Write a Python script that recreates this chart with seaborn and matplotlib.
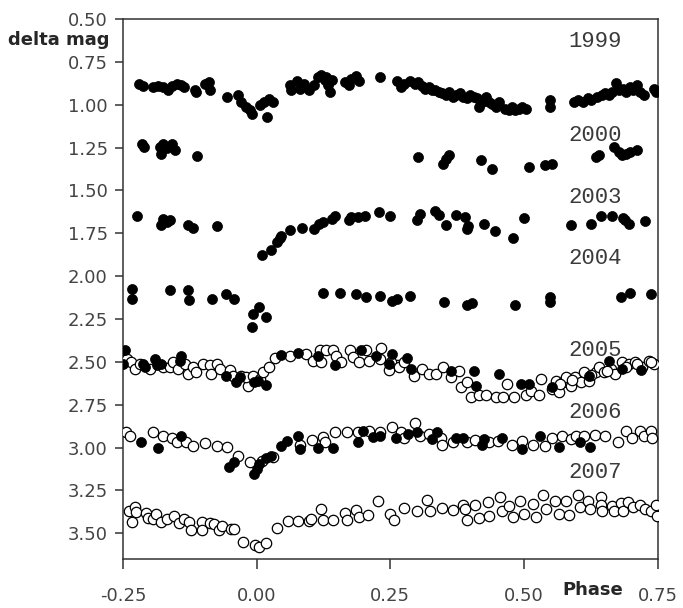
import numpy as np
import pandas as pd
import matplotlib
matplotlib.use("Agg")
import matplotlib.pyplot as plt
import seaborn as sns

# ---------------- data (phase, delta mag) ----------------
phase_1999 = [-0.220,-0.213,-0.194,-0.184,-0.175,-0.165,-0.158,-0.149,-0.142,-0.136,-0.116,-0.113,-0.097,-0.090,-0.087,
              -0.055,-0.035,-0.029,-0.019,-0.012,-0.009,0.007,0.013,0.023,0.030,0.020,
              0.062,0.065,0.075,0.082,0.088,0.098,0.108,0.114,0.120,0.127,0.133,0.137,0.140,0.130,
              0.166,0.172,0.176,0.185,0.192,0.231,
              0.263,0.270,0.276,0.286,0.296,0.302,0.309,0.315,0.322,0.328,0.334,0.341,0.347,0.354,0.360,0.367,0.373,0.380,
              0.386,0.393,0.399,0.406,0.412,0.416,0.422,0.428,0.435,0.441,0.448,0.454,0.464,0.471,0.477,0.484,0.490,0.497,0.503,
              0.549,0.549,
              0.594,0.600,0.610,0.620,0.626,0.636,0.646,0.652,0.659,0.665,0.672,0.678,0.685,0.691,0.698,0.704,0.711,0.717,0.724,0.743,0.746]
mag_1999 = [0.876,0.891,0.895,0.891,0.899,0.911,0.891,0.876,0.887,0.895,0.911,0.924,0.880,0.868,0.915,
            0.954,0.944,0.983,1.012,1.032,1.055,1.002,0.983,0.969,0.983,1.070,
            0.886,0.915,0.860,0.905,0.876,0.915,0.886,0.837,0.827,0.856,0.886,0.924,0.856,0.837,
            0.866,0.886,0.847,0.833,0.860,0.837,
            0.860,0.895,0.876,0.860,0.880,0.866,0.891,0.905,0.895,0.915,0.911,0.924,0.934,0.944,0.924,0.954,0.944,0.934,
            0.954,0.958,0.944,0.954,0.963,1.012,0.983,0.954,0.983,0.993,1.012,0.983,1.022,1.032,1.012,1.032,1.022,1.012,1.022,
            0.973,1.012,
            0.983,0.973,0.983,0.963,0.973,0.954,0.944,0.934,0.944,0.924,0.872,0.915,0.905,0.924,0.895,0.915,0.886,0.924,0.944,0.905,0.924]

phase_2000 = [-0.215,-0.211,-0.181,-0.178,-0.175,-0.168,-0.159,-0.153,-0.111,
              0.301,0.348,0.354,0.360,0.419,0.441,0.509,0.540,0.553,0.634,0.640,0.668,0.677,0.683,0.690,0.699,0.711]
mag_2000 = [1.226,1.246,1.246,1.285,1.226,1.255,1.226,1.265,1.298,
            1.304,1.343,1.314,1.294,1.324,1.372,1.363,1.353,1.347,1.304,1.294,1.246,1.275,1.294,1.285,1.275,1.265]

phase_2003 = [-0.223,-0.178,-0.175,-0.168,-0.162,-0.129,-0.119,-0.074,0.010,0.026,0.039,0.043,0.046,0.062,0.085,0.108,
              0.117,0.124,0.140,0.146,0.172,0.176,0.189,0.202,0.228,0.250,0.299,0.305,0.334,0.341,0.354,0.373,0.390,
              0.393,0.396,0.425,0.445,0.480,0.500,0.587,0.626,0.643,0.665,0.685,0.688,0.696,0.727]
mag_2003 = [1.651,1.703,1.664,1.684,1.674,1.699,1.719,1.707,1.878,1.849,1.801,1.777,1.766,1.733,1.719,1.727,
            1.694,1.684,1.664,1.651,1.674,1.655,1.655,1.649,1.625,1.651,1.674,1.635,1.622,1.641,1.699,1.641,1.655,
            1.727,1.707,1.694,1.738,1.777,1.660,1.699,1.694,1.651,1.651,1.660,1.674,1.694,1.680]

phase_2004 = [-0.233,-0.233,-0.162,-0.129,-0.126,-0.084,-0.058,-0.043,-0.009,-0.006,0.004,0.017,0.124,0.156,0.185,
              0.205,0.231,0.253,0.263,0.286,0.351,0.393,0.403,0.484,0.549,0.549,0.682,0.698,0.737]
mag_2004 = [2.073,2.132,2.083,2.079,2.141,2.132,2.102,2.132,2.297,2.219,2.180,2.239,2.099,2.099,2.102,
            2.122,2.118,2.145,2.132,2.118,2.151,2.171,2.157,2.171,2.122,2.151,2.122,2.099,2.106]

phase_2005_filled = [-0.246,-0.249,-0.212,-0.209,-0.190,-0.187,-0.178,-0.141,-0.144,-0.057,-0.038,-0.032,-0.004,0.003,
                     0.018,0.046,0.077,0.114,0.146,0.195,0.223,0.248,0.254,0.282,0.289,0.363,0.407,0.410,0.453,0.494,
                     0.509,0.553,0.621,0.659,0.683,0.718]
mag_2005_filled = [2.433,2.511,2.511,2.531,2.482,2.521,2.511,2.467,2.492,2.580,2.618,2.589,2.618,2.609,
                   2.634,2.459,2.447,2.467,2.517,2.433,2.463,2.511,2.453,2.478,2.541,2.556,2.556,2.638,2.570,2.628,
                   2.628,2.648,2.580,2.492,2.541,2.550]

phase_2005_open = [-0.243,-0.234,-0.228,-0.218,-0.200,-0.175,-0.162,-0.156,-0.147,-0.134,-0.128,-0.119,-0.113,-0.100,
                   -0.088,-0.085,-0.075,-0.069,-0.050,-0.044,-0.029,-0.016,-0.019,-0.007,0.006,0.012,0.024,0.034,0.062,
                   0.093,0.105,0.118,0.121,0.130,0.143,0.149,0.158,0.174,0.180,0.192,0.205,0.211,0.233,0.230,0.248,0.264,
                   0.251,0.267,0.276,0.295,0.310,0.323,0.335,0.348,0.363,0.379,0.382,0.394,0.401,0.416,0.429,0.447,
                   0.460,0.469,0.481,0.503,0.513,0.531,0.528,0.553,0.559,0.565,0.572,0.578,0.587,0.596,0.606,0.612,
                   0.621,0.634,0.640,0.649,0.662,0.671,0.683,0.696,0.708,0.721,0.733,0.743,
                   0.568,0.590,0.625,0.655,0.690,0.712,0.738]
mag_2005_open = [2.482,2.502,2.541,2.511,2.541,2.531,2.531,2.502,2.541,2.511,2.570,2.531,2.560,2.511,
                 2.521,2.570,2.511,2.541,2.550,2.580,2.580,2.638,2.589,2.580,2.599,2.560,2.531,2.478,2.463,
                 2.453,2.492,2.428,2.502,2.433,2.433,2.463,2.502,2.428,2.472,2.502,2.433,2.492,2.420,2.482,2.550,2.521,
                 2.502,2.531,2.502,2.580,2.541,2.570,2.570,2.531,2.589,2.556,2.648,2.618,2.706,2.696,2.696,2.706,
                 2.706,2.628,2.706,2.696,2.667,2.599,2.696,2.657,2.609,2.677,2.618,2.589,2.638,2.589,2.618,2.560,
                 2.609,2.560,2.531,2.560,2.541,2.570,2.502,2.511,2.502,2.531,2.492,2.511,
                 2.630,2.605,2.575,2.555,2.530,2.515,2.500]

phase_2006_filled = [-0.217,-0.184,-0.142,-0.051,-0.042,0.000,0.004,-0.004,0.017,0.026,0.046,0.056,0.078,0.082,0.114,
                     0.143,0.189,0.198,0.218,0.231,0.260,0.283,0.299,0.328,0.338,0.373,0.386,0.422,0.425,0.458,0.497,
                     0.529,0.565,0.604,0.623]
mag_2006_filled = [2.969,3.004,2.934,3.115,3.086,3.125,3.095,3.154,3.062,3.051,2.988,2.959,2.934,3.008,3.004,
                   3.004,2.969,2.901,2.940,2.934,2.946,2.920,2.910,2.949,2.907,2.946,2.946,2.984,2.949,2.946,3.008,
                   2.934,2.998,2.969,2.998]

phase_2006_open = [-0.244,-0.236,-0.194,-0.175,-0.158,-0.149,-0.132,-0.119,-0.097,-0.074,-0.055,-0.035,-0.012,0.010,0.030,
                   0.082,0.104,0.124,0.127,0.146,0.169,0.189,0.211,0.231,0.253,0.270,0.276,0.296,0.305,0.322,0.344,
                   0.347,0.367,0.393,0.409,0.435,0.451,0.477,0.497,0.516,0.539,0.552,0.571,0.587,0.597,0.613,0.633,
                   0.652,0.675,0.691,0.701,0.717,0.724,0.737,0.740]
mag_2006_open = [2.907,2.930,2.910,2.930,2.946,2.969,2.969,2.988,2.973,2.992,2.998,3.051,3.082,3.076,3.057,
                 2.984,2.953,2.940,2.965,2.910,2.907,2.907,2.901,2.910,2.881,2.910,2.946,2.856,2.930,2.920,2.946,
                 2.984,2.969,2.969,2.953,2.965,2.959,2.984,2.959,2.984,2.992,2.946,2.934,2.949,2.934,2.930,2.926,
                 2.930,2.969,2.901,2.946,2.901,2.934,2.901,2.946]

phase_2007 = [-0.239,-0.233,-0.228,-0.226,-0.207,-0.204,-0.194,-0.188,-0.178,-0.168,-0.155,-0.145,-0.136,-0.126,-0.123,
              -0.103,-0.103,-0.087,-0.080,-0.071,-0.064,-0.048,-0.042,-0.025,-0.003,0.004,0.017,0.039,0.059,0.078,0.098,
              0.101,0.120,0.124,0.143,0.166,0.169,0.185,0.192,0.208,0.227,0.250,0.257,0.276,0.299,0.318,0.325,0.347,
              0.367,0.386,0.390,0.393,0.409,0.416,0.432,0.435,0.455,0.458,0.471,0.480,0.493,0.500,0.516,0.522,0.535,
              0.542,0.558,0.565,0.578,0.584,0.600,0.604,0.620,0.623,0.643,0.643,0.646,0.665,0.668,0.681,0.685,0.694,
              0.704,0.717,0.727,0.737,0.746,0.749]
mag_2007 = [3.368,3.436,3.349,3.378,3.384,3.411,3.417,3.388,3.436,3.417,3.397,3.442,3.417,3.436,3.481,
            3.436,3.481,3.442,3.446,3.481,3.456,3.475,3.475,3.553,3.567,3.582,3.559,3.469,3.426,3.426,3.426,
            3.417,3.358,3.423,3.423,3.384,3.423,3.364,3.407,3.391,3.314,3.388,3.423,3.352,3.368,3.306,3.368,3.352,
            3.364,3.333,3.358,3.423,3.333,3.411,3.319,3.397,3.290,3.372,3.339,3.403,3.314,3.388,3.329,3.403,3.275,
            3.358,3.314,3.388,3.310,3.391,3.275,3.345,3.314,3.358,3.290,3.333,3.372,3.339,3.372,3.325,3.368,3.319,
            3.349,3.333,3.358,3.368,3.333,3.397]

year_labels = ["1999", "2000", "2003", "2004", "2005", "2006", "2007"]
year_label_mag = [0.632, 1.178, 1.538, 1.898, 2.433, 2.794, 3.144]

x_ticks = [-0.25, 0.00, 0.25, 0.50, 0.75]
y_ticks = [0.50, 0.75, 1.00, 1.25, 1.50, 1.75, 2.00, 2.25, 2.50, 2.75, 3.00, 3.25, 3.50]

# ---------------- figure ----------------
sns.set_style("ticks")
plt.rcParams["font.family"] = ["DejaVu Sans"]

fig = plt.figure(figsize=(6.83, 6.08), dpi=100)
ax = fig.add_axes([0.180, 0.0806, 0.783, 0.888])

filled = [(phase_1999, mag_1999), (phase_2000, mag_2000), (phase_2003, mag_2003),
          (phase_2004, mag_2004)]
opens = [(phase_2005_open, mag_2005_open), (phase_2006_open, mag_2006_open),
         (phase_2007, mag_2007)]
filled_late = [(phase_2005_filled, mag_2005_filled), (phase_2006_filled, mag_2006_filled)]

for px, my in opens:
    sns.scatterplot(x=px, y=my, ax=ax, marker="o", s=56, color="white",
                    edgecolor="black", linewidth=0.9, zorder=3, legend=False)
for px, my in filled + filled_late:
    sns.scatterplot(x=px, y=my, ax=ax, marker="o", s=52, color="black",
                    edgecolor="black", linewidth=0.5, zorder=4, legend=False)

ax.set_xlim(-0.25, 0.75)
ax.set_ylim(3.65, 0.50)
ax.set_xticks(x_ticks)
ax.set_xticklabels([f"{v:.2f}" for v in x_ticks])
ax.set_yticks(y_ticks)
ax.set_yticklabels([f"{v:.2f}" for v in y_ticks])
ax.set_xlabel("")
ax.set_ylabel("")

for sp in ax.spines.values():
    sp.set_visible(True)
    sp.set_color("#333333")
    sp.set_linewidth(1.1)

ax.tick_params(axis="x", direction="out", length=7, width=1.1, color="#333333",
               pad=13, labelsize=13, labelcolor="#444444")
ax.tick_params(axis="y", direction="out", length=6, width=1.1, color="#333333",
               pad=5, labelsize=13, labelcolor="#444444")

for lab, yv in zip(year_labels, year_label_mag):
    ax.text(0.582, yv, lab, family="Liberation Mono", fontsize=16, color="#3a3a3a",
            ha="left", va="center", zorder=5)

fig.text(0.012, 0.934, "delta mag", fontsize=13, fontweight="bold", ha="left", va="center")
fig.text(0.823, 0.0296, "Phase", fontsize=13, fontweight="bold", ha="left", va="center")

fig.savefig("out.png", dpi=100)
